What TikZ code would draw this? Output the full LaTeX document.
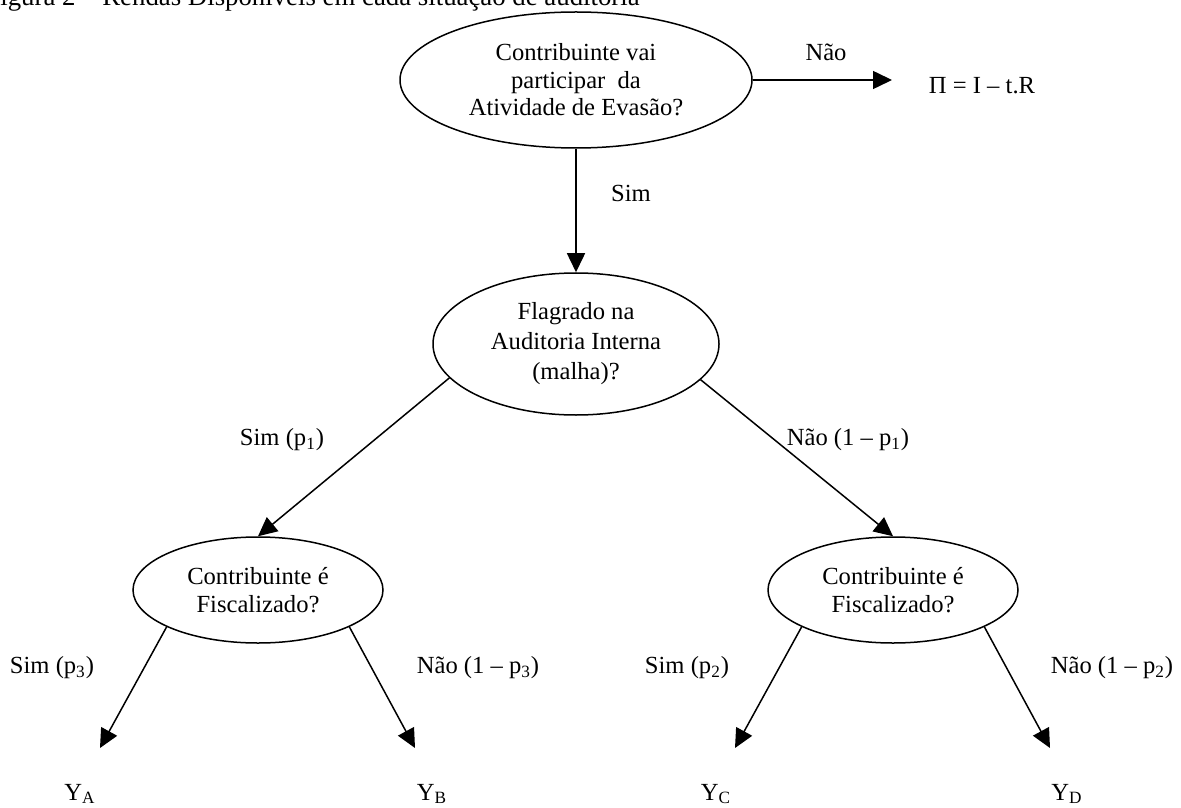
\documentclass[tikz,border=0pt]{standalone}
\usepackage{fontspec}
\setmainfont{Liberation Serif}
\usetikzlibrary{arrows.meta,shapes.geometric}
\begin{document}
\begin{tikzpicture}[x=0.5pt,y=-0.5pt,
  every node/.style={font=\fontsize{12.3}{13.8}\selectfont},
  q/.style={draw,ellipse,line width=0.75pt,inner sep=0pt,align=center},
  arr/.style={line width=0.75pt,-{Triangle[length=9.5pt,width=9pt]}},
  lbl/.style={inner sep=0pt}]
\useasboundingbox (0,0) rectangle (1181,807);
\node[anchor=base west,inner sep=0pt,font=\fontsize{13.4}{15}\selectfont] (cap) at (0,6) {igura 2 – Rendas Disponíveis em cada situação de auditoria};
\node[q,minimum width=176pt,minimum height=68pt] (e1) at (576,80) {Contribuinte vai\\participar\ \ da\\Atividade de Evasão?};
\node[q,minimum width=143pt,minimum height=71pt,font=\fontsize{12.3}{15}\selectfont] (e2) at (576,344) {Flagrado na\\Auditoria Interna\\(malha)?};
\node[q,minimum width=125pt,minimum height=53pt] (e3) at (258,590) {Contribuinte é\\Fiscalizado?};
\node[q,minimum width=125pt,minimum height=53pt] (e4) at (893,590) {Contribuinte é\\Fiscalizado?};
\node[lbl] (pi) at (982,86) {Π = I – t.R};
\coordinate (tn) at (892,80);
\node[lbl] (nao0) at (826,52) {Não};
\node[lbl] (sim0) at (631,193) {Sim};
\node[lbl] (sim1) at (282,440) {Sim (p\textsubscript{1})};
\node[lbl] (nao1) at (848,440) {Não (1 – p\textsubscript{1})};
\node[lbl] (sim3) at (52,668) {Sim (p\textsubscript{3})};
\node[lbl] (nao3) at (478,668) {Não (1 – p\textsubscript{3})};
\node[lbl] (sim2) at (687,668) {Sim (p\textsubscript{2})};
\node[lbl] (nao2) at (1112,668) {Não (1 – p\textsubscript{2})};
\coordinate (ta) at (100,748);
\coordinate (tb) at (415,748);
\coordinate (tc) at (735,748);
\coordinate (td) at (1050,748);
\node[lbl] (ya) at (80,794) {Y\textsubscript{A}};
\node[lbl] (yb) at (432,794) {Y\textsubscript{B}};
\node[lbl] (yc) at (716,794) {Y\textsubscript{C}};
\node[lbl] (yd) at (1067,794) {Y\textsubscript{D}};
\draw[arr] (e1.east) -- (tn);
\draw[arr] (e1.south) -- (e2.north);
\draw[arr] (e2.195.5) -- (e3.north);
\draw[arr] (e2.344.5) -- (e4.north);
\draw[arr] (e3.202) -- (ta);
\draw[arr] (e3.338) -- (tb);
\draw[arr] (e4.202) -- (tc);
\draw[arr] (e4.338) -- (td);
\end{tikzpicture}
\end{document}
